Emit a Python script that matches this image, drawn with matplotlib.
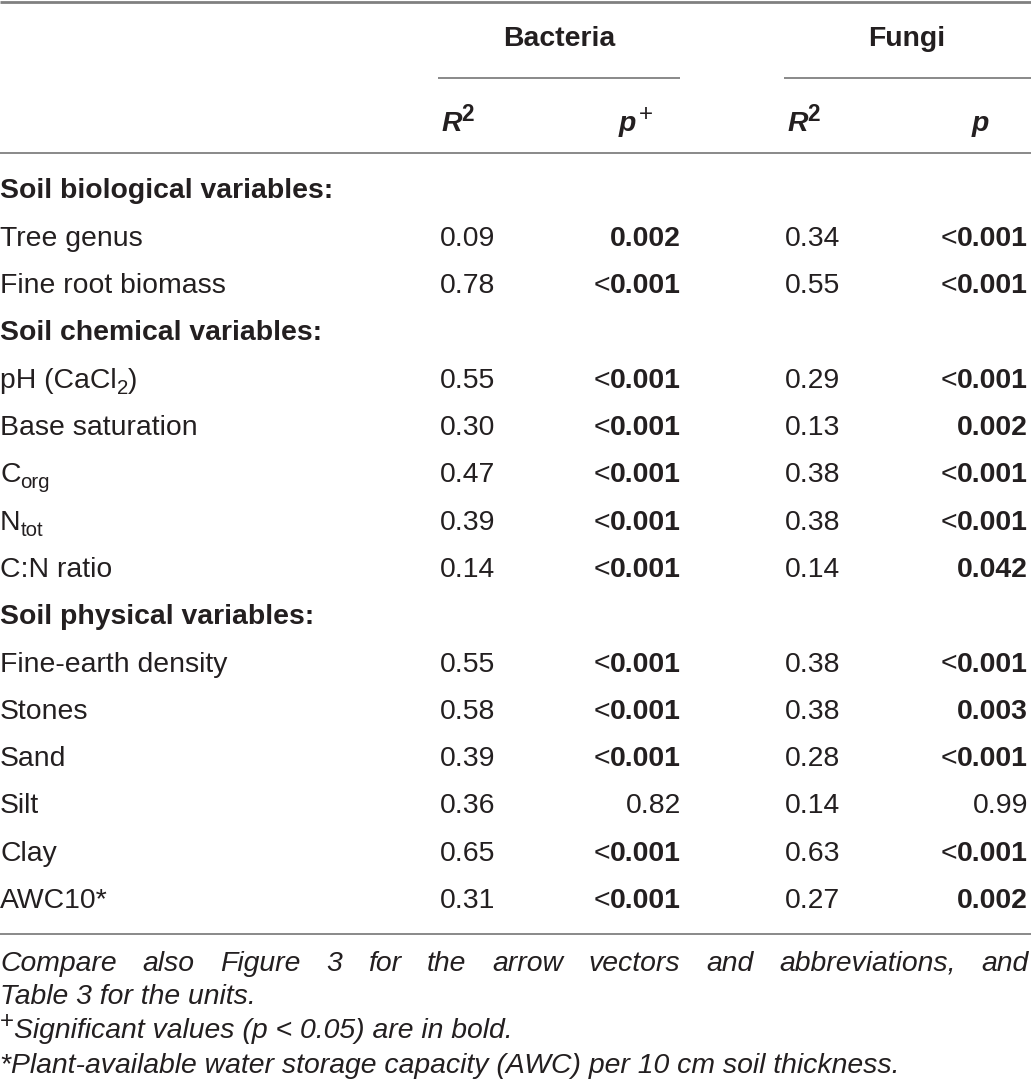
import re
import matplotlib
matplotlib.use('Agg')
import matplotlib.pyplot as plt
from matplotlib.lines import Line2D

# ---------------- data ----------------
sections = ["Soil biological variables:", "Soil chemical variables:", "Soil physical variables:"]
variables = ["Tree genus", "Fine root biomass",
             "pH (CaCl_{2})", "Base saturation", "C_{org}", "N_{tot}", "C:N ratio",
             "Fine-earth density", "Stones", "Sand", "Silt", "Clay", "AWC10*"]
variable_section = [0, 0, 1, 1, 1, 1, 1, 2, 2, 2, 2, 2, 2]
bact_r2 = ["0.09", "0.78", "0.55", "0.30", "0.47", "0.39", "0.14",
           "0.55", "0.58", "0.39", "0.36", "0.65", "0.31"]
bact_p = ["0.002", "<0.001", "<0.001", "<0.001", "<0.001", "<0.001", "<0.001",
          "<0.001", "<0.001", "<0.001", "0.82", "<0.001", "<0.001"]
fungi_r2 = ["0.34", "0.55", "0.29", "0.13", "0.38", "0.38", "0.14",
            "0.38", "0.38", "0.28", "0.14", "0.63", "0.27"]
fungi_p = ["<0.001", "<0.001", "<0.001", "0.002", "<0.001", "<0.001", "0.042",
           "<0.001", "0.003", "<0.001", "0.99", "<0.001", "0.002"]
group_titles = ["Bacteria", "Fungi"]
footnote1 = "Compare also Figure 3 for the arrow vectors and abbreviations, and"
footnote2 = "Table 3 for the units."
footnote3 = "Significant values (p < 0.05) are in bold."
footnote4 = "*Plant-available water storage capacity (AWC) per 10 cm soil thickness."

# ---------------- layout ----------------
W, H = 1031, 1090
fig = plt.figure(figsize=(W / 100, H / 100), dpi=100)
fig.patch.set_facecolor('white')
renderer = fig.canvas.get_renderer()

FS = 20.4
FONT = ['Liberation Sans', 'DejaVu Sans']
COLOR = '#231f20'
LINE_C = '#808080'


def fx(x):
    return x / W


def fy(y):
    return 1 - y / H


def draw_segs(x, y, segs, ha='left'):
    """segs: list of (text, weight, style, scale, dy_px)"""
    items = []
    total = 0.0
    for s, wt, st, sc, dy in segs:
        t = fig.text(0, 0, s, fontsize=FS * sc, fontweight=wt, fontstyle=st,
                     family=FONT, color=COLOR, va='baseline', ha='left')
        w = t.get_window_extent(renderer).width
        items.append((t, w, dy))
        total += w
    if ha == 'left':
        cur = x
    elif ha == 'right':
        cur = x - total
    else:
        cur = x - total / 2
    for t, w, dy in items:
        t.set_position((fx(cur), fy(y + dy)))
        cur += w


def label_segs(s, weight='normal', style='normal'):
    parts = re.split(r'(_\{[^}]*\})', s)
    segs = []
    for p in parts:
        if not p:
            continue
        if p.startswith('_{'):
            segs.append((p[2:-1], weight, style, 0.72, 6))
        else:
            segs.append((p, weight, style, 1.0, 0))
    return segs


def p_segs(p):
    if p.startswith('<'):
        return [('<', 'normal', 'normal', 1.0, 0), (p[1:], 'bold', 'normal', 1.0, 0)]
    if float(p) < 0.05:
        return [(p, 'bold', 'normal', 1.0, 0)]
    return [(p, 'normal', 'normal', 1.0, 0)]


def hline(x0, x1, y, lw=1.3):
    fig.add_artist(Line2D([fx(x0), fx(x1)], [fy(y), fy(y)], transform=fig.transFigure,
                          color=LINE_C, lw=lw, solid_capstyle='butt'))


# rules
hline(0, W, 1.5, lw=2.0)
hline(438, 680, 77.5)
hline(784, 1031, 77.5)
hline(0, W, 153, lw=1.3)
hline(0, W, 933.5, lw=1.3)

# group headers
draw_segs(559, 46, [(group_titles[0], 'bold', 'normal', 1.0, 0)], ha='center')
draw_segs(907, 46, [(group_titles[1], 'bold', 'normal', 1.0, 0)], ha='center')

# column headers
HY = 131
r2_hdr = [('R', 'bold', 'italic', 1.0, 0), ('2', 'bold', 'normal', 0.8, -10)]
draw_segs(441, HY, r2_hdr, ha='left')
draw_segs(636, HY, [('p', 'bold', 'italic', 1.0, 0), (' ', 'normal', 'normal', 0.3, 0),
                    ('+', 'normal', 'normal', 0.85, -10)], ha='center')
draw_segs(787, HY, r2_hdr, ha='left')
draw_segs(980, HY, [('p', 'bold', 'italic', 1.0, 0)], ha='center')

# body
ROW0, ROWH = 198.5, 47.3
k = 0
prev_sec = -1
for i, v in enumerate(variables):
    if variable_section[i] != prev_sec:
        prev_sec = variable_section[i]
        draw_segs(0, ROW0 + ROWH * k, [(sections[prev_sec], 'bold', 'normal', 1.0, 0)])
        k += 1
    y = ROW0 + ROWH * k
    draw_segs(0, y, label_segs(v))
    draw_segs(440, y, [(bact_r2[i], 'normal', 'normal', 1.0, 0)], ha='left')
    draw_segs(681, y, p_segs(bact_p[i]), ha='right')
    draw_segs(785, y, [(fungi_r2[i], 'normal', 'normal', 1.0, 0)], ha='left')
    draw_segs(1028, y, p_segs(fungi_p[i]), ha='right')
    k += 1

# footnotes
FY = [971, 1004, 1038, 1073]
# justified first line
words = footnote1.split(' ')
wts = []
for wd in words:
    t = fig.text(0, 0, wd, fontsize=FS, fontstyle='italic', family=FONT, color=COLOR,
                 va='baseline', ha='left')
    wts.append((t, t.get_window_extent(renderer).width))
total = sum(w for _, w in wts)
gap = (1029 - total) / (len(words) - 1)
cur = 0
for t, w in wts:
    t.set_position((fx(cur), fy(FY[0])))
    cur += w + gap

draw_segs(0, FY[1], [(footnote2, 'normal', 'italic', 1.0, 0)])
draw_segs(0, FY[2], [('+', 'normal', 'normal', 0.85, -10), (footnote3, 'normal', 'italic', 1.0, 0)])
draw_segs(0, FY[3], [(footnote4, 'normal', 'italic', 1.0, 0)])

fig.savefig('out.png', dpi=100, facecolor='white')
